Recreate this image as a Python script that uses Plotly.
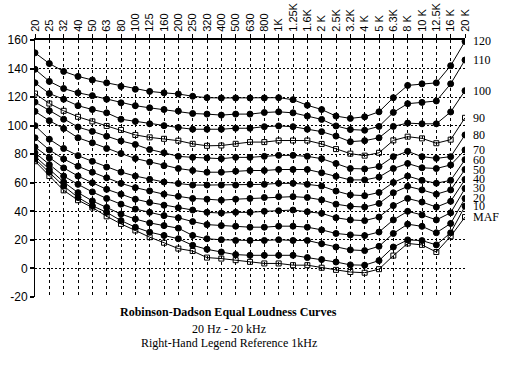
import plotly.graph_objects as go

freq_labels = ["20", "25", "32", "40", "50", "63", "80", "100", "125", "160", "200", "250",
               "320", "400", "500", "630", "800", "1K", "1.25K", "1.6K", "2 K", "2.5K",
               "3.2K", "4 K", "5 K", "6.3K", "8 K", "10 K", "12.5K", "16 K", "20 K"]

phon_120 = [151, 143.5, 138, 134.5, 132, 130, 127.5, 125.5, 124, 123, 122.2,
            120.6, 119.6, 119.4, 119.4, 119.4, 119.4, 119.6, 118.2, 114.3, 111.3,
            106.7, 105.1, 106.2, 109.7, 119.6, 128.2, 129.3, 130.0, 142.0, 159]
phon_110 = [139.5, 131, 126, 123, 121, 118.5, 116, 114, 112.5, 111.3, 110.2,
            108.5, 108.1, 107.4, 108.1, 108.1, 109.2, 109.7, 109.0, 106.7, 104.4,
            99.8, 97.3, 96.8, 99.5, 109.3, 115.4, 116.3, 117.3, 129.3, 146]
phon_100 = [130, 122.5, 118.5, 114, 111.3, 109, 104.5, 103, 101.3, 100, 98.7,
            97.5, 97.5, 97.5, 98.2, 98.2, 99.3, 99.8, 99.3, 97.5, 95.8,
            92.7, 88.8, 89.5, 91.5, 99.5, 101.8, 101.3, 101.3, 109.6, 124.5]
phon_90 = [122.5, 115.5, 110.4, 106.2, 103, 99.8, 97, 93.5, 91.8, 90.8, 89.5,
           87.3, 85.9, 86.1, 87.3, 88.5, 88.5, 89.6, 89.6, 89.6, 87.2,
           83.6, 80.4, 79, 81, 89.7, 92.3, 91.1, 87.7, 90.2, 105.5]
phon_80 = [116.5, 110.5, 104.5, 99, 96, 92.6, 89.3, 86.8, 83.3, 81, 78.5,
           77.8, 77.4, 76.9, 77.8, 77.8, 78.5, 79.2, 79.2, 78.5, 76.9,
           73.5, 70, 69.7, 71.4, 78.3, 82, 78.3, 77.1, 78.3, 93.5]
phon_70 = [110, 103.5, 98, 91.5, 88, 84, 80.5, 77, 74.5, 72, 70,
           68.6, 67.4, 67.4, 68.1, 68.6, 68.6, 69.3, 69.3, 69.3, 67.0,
           64.5, 62, 62, 64, 70, 73.5, 70.5, 70, 72.5, 83]
phon_60 = [100, 90.5, 84, 79, 75, 71, 67.5, 64.7, 62.4, 60.5, 59.5,
           58.4, 58.4, 58.4, 58.4, 58.9, 58.9, 59.6, 59.6, 58.9, 57.7,
           54.2, 51.5, 51, 53.2, 60.2, 64.7, 61.7, 59.7, 61.7, 76.2]
phon_50 = [91.5, 83, 76.7, 71.6, 67.4, 63.5, 59.6, 56.6, 54.3, 52, 50.5,
           49.0, 48.5, 47.8, 48.5, 49.0, 49.7, 50.3, 50.3, 49.7, 48.0,
           45, 43.5, 43, 45.5, 53, 57.5, 55, 52, 55, 69.3]
phon_40 = [85, 77.4, 70.4, 64.7, 60, 55.4, 52, 48.5, 46.2, 44.3, 42.5,
           40.9, 39.3, 38.8, 39.3, 39.3, 40.0, 40.4, 40.9, 39.7, 38.6,
           35.5, 34, 33.5, 36, 44, 49, 46.5, 43, 47, 62.3]
phon_30 = [81, 72.7, 64.7, 58.9, 53.6, 49, 45, 41.6, 39.3, 37, 35.5,
           32.8, 30.7, 30.0, 29.6, 28.9, 28.9, 29.6, 29.6, 28.9, 27.0,
           24.5, 23.5, 23, 25.5, 34, 40, 37.5, 34, 39, 56]
phon_20 = [78.5, 69.3, 60.5, 53.1, 47.3, 42.7, 38.1, 34.6, 31.9, 30, 28.2,
           23.1, 20.8, 20.1, 19.6, 19.6, 19.6, 20.1, 19.6, 19.6, 17.3,
           15, 13, 12.5, 15.5, 24.5, 31, 29.5, 25, 31.5, 49]
phon_10 = [76.7, 67.4, 57.7, 49.7, 43.9, 39.3, 33.5, 28.9, 25.4, 23.1, 20.8,
           16.2, 13.4, 11.5, 9.7, 9.2, 9.2, 9.2, 9.2, 7.6, 6.2,
           4.5, 2.5, 2.3, 5.5, 15, 20, 19.5, 16.5, 25, 43.6]
maf = [75.1, 64.7, 54.7, 47.8, 42.7, 36.5, 31.2, 26.6, 21.9, 18.0, 13.9,
       12.2, 7.6, 6.9, 5.8, 4.6, 3.5, 3.5, 2.3, 2.3, 0.5,
       -1, -2.5, -3, -0.5, 9, 17.5, 16.5, 11.5, 22.5, 36]

curve_names = ["120", "110", "100", "90", "80", "70", "60", "50", "40", "30", "20", "10", "MAF"]
curves = [phon_120, phon_110, phon_100, phon_90, phon_80, phon_70, phon_60,
          phon_50, phon_40, phon_30, phon_20, phon_10, maf]
hollow = {"90", "MAF"}

y_ticks = [-20, 0, 20, 40, 60, 80, 100, 120, 140, 160]
y_tick_text = ["-20", "0", "20", "40", "60", "80", "100", "120", "140", "160"]

xs = list(range(len(freq_labels)))

fig = go.Figure()
for name, vals in zip(curve_names, curves):
    open_marker = name in hollow
    fig.add_trace(go.Scatter(
        x=xs, y=vals, mode="lines+markers", name=name,
        line=dict(color="black", width=1),
        marker=dict(symbol="square-open" if open_marker else "circle",
                    size=5 if open_marker else 6,
                    color="black", line=dict(color="black", width=1)),
        showlegend=False, hoverinfo="skip",
    ))
    fig.add_annotation(x=xs[-1], y=vals[-1], xref="x", yref="y", text=name,
                       showarrow=False, xanchor="left", yanchor="middle", xshift=6,
                       font=dict(family="Liberation Serif", size=12, color="black"))

fig.update_xaxes(
    range=[0, len(freq_labels) - 1], side="top", automargin=False,
    tickmode="array", tickvals=xs, ticktext=freq_labels, tickangle=-90,
    tickfont=dict(family="Liberation Sans", size=11, color="black"),
    showgrid=True, gridcolor="black", gridwidth=1, griddash="3px,3px",
    showline=True, linecolor="black", linewidth=2,
    ticks="outside", ticklen=4, tickcolor="black", zeroline=False,
)
fig.update_yaxes(
    range=[-20, 160], tickmode="array", tickvals=y_ticks, ticktext=y_tick_text,
    automargin=False,
    tickfont=dict(family="Liberation Sans", size=12, color="black"),
    showgrid=True, gridcolor="black", gridwidth=1, griddash="2px,2px",
    showline=True, linecolor="black", linewidth=1,
    ticks="outside", ticklen=4, tickwidth=2, tickcolor="black", zeroline=False,
)

title_lines = [
    ("<b>Robinson-Dadson Equal Loudness Curves</b>", -0.058),
    ("20 Hz - 20 kHz", -0.124),
    ("Right-Hand Legend Reference 1kHz", -0.18),
]
for txt, yy in title_lines:
    fig.add_annotation(x=0.45, y=yy, xref="paper", yref="paper", text=txt,
                       showarrow=False, xanchor="center", yanchor="middle",
                       font=dict(family="Liberation Serif", size=12, color="black"))

fig.update_layout(
    width=519, height=366,
    margin=dict(l=35, r=54, t=40, b=69, autoexpand=False),
    paper_bgcolor="white", plot_bgcolor="white",
)

fig.write_html("out.html", config={"displayModeBar": False},
               post_script="document.body.style.margin='0';document.body.style.overflow='hidden';")
